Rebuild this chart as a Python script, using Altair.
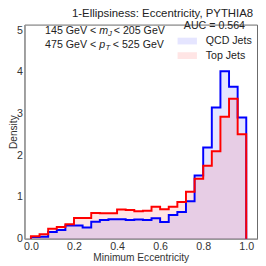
import altair as alt
import pandas as pd

bin_edges = [round(i * 0.04, 2) for i in range(26)]
qcd = [0.04, 0.05, 0.16, 0.21, 0.32, 0.32, 0.27, 0.41, 0.45, 0.47, 0.47, 0.45, 0.46,
       0.45, 0.49, 0.40, 0.57, 0.64, 0.90, 1.52, 2.19, 3.15, 4.02, 3.65, 2.91]
top = [0.06, 0.11, 0.24, 0.28, 0.35, 0.50, 0.50, 0.62, 0.61, 0.61, 0.70, 0.69, 0.66,
       0.67, 0.77, 0.71, 0.77, 0.88, 1.13, 1.44, 1.75, 2.10, 2.93, 3.36, 2.51]
series = ["QCD Jets", "Top Jets"]
colors = ["#0000ff", "#ff0000"]
x_ticks = [0.0, 0.2, 0.4, 0.6, 0.8, 1.0]
y_ticks = [0, 1, 2, 3, 4, 5]


def step_rows(name, vals):
    rows = [{"s": name, "x": bin_edges[0], "y": 0.0, "o": 0}]
    k = 1
    for i, v in enumerate(vals):
        rows.append({"s": name, "x": bin_edges[i], "y": v, "o": k}); k += 1
        rows.append({"s": name, "x": bin_edges[i + 1], "y": v, "o": k}); k += 1
    rows.append({"s": name, "x": bin_edges[-1], "y": 0.0, "o": k})
    return rows


def area_rows(name, vals):
    rows = [{"s": name, "x": bin_edges[i], "y": v} for i, v in enumerate(vals)]
    rows.append({"s": name, "x": bin_edges[-1], "y": vals[-1]})
    return rows


df = pd.DataFrame(step_rows(series[0], qcd) + step_rows(series[1], top))
dfa = pd.DataFrame(area_rows(series[0], qcd) + area_rows(series[1], top))

W, H = 240, 221
xs = alt.Scale(domain=[-0.03, 1.05], nice=False, zero=False)
ys = alt.Scale(domain=[0, 5.14], nice=False)
cs = alt.Scale(domain=series, range=colors)

X = alt.X("x:Q", scale=xs, title="Minimum Eccentricity",
          axis=alt.Axis(values=x_ticks, format=".1f"))
Y = alt.Y("y:Q", scale=ys, title="Density", stack=None,
          axis=alt.Axis(values=y_ticks, format="d", titleX=-16, titleY=H / 2,
                        titleBaseline="top"))

areas = alt.Chart(dfa).mark_area(opacity=0.1, interpolate="step-after").encode(
    x=X, y=Y,
    fill=alt.Fill("s:N", scale=cs, sort=series,
                  legend=alt.Legend(title="AUC = 0.564")),
    detail="s:N",
)

lines = []
for name, col in zip(series, colors):
    lines.append(
        alt.Chart(df).transform_filter(alt.datum.s == name)
        .mark_line(color=col, strokeWidth=2, interpolate="linear")
        .encode(x=X, y=Y, order="o:Q")
    )

ann_x = 0.317
l1y, l2y = 4.99, 4.65
ann = pd.DataFrame({"x": [ann_x], "y1": [l1y], "y2": [l2y]})
fs = 11


def txt(text, ycol, align="left", dx=0, dy=0, size=fs, style="normal"):
    return alt.Chart(ann).mark_text(
        text=text, align=align, baseline="middle", dx=dx, dy=dy,
        fontSize=size, fontStyle=style, font="Liberation Sans", color="#222"
    ).encode(x=alt.X("x:Q", scale=xs), y=alt.Y(f"{ycol}:Q", scale=ys))


texts = [
    txt("145 GeV <", "y1", align="right", dx=-3),
    txt("m", "y1", style="italic"),
    txt("J", "y1", dx=9, dy=3, size=8, style="italic"),
    txt("< 205 GeV", "y1", dx=15),
    txt("475 GeV <", "y2", align="right", dx=-3),
    txt("p", "y2", style="italic"),
    txt("T", "y2", dx=6.5, dy=3, size=8, style="italic"),
    txt("< 525 GeV", "y2", dx=14),
]

chart = alt.layer(areas, *lines, *texts).properties(
    width=W, height=H,
    autosize=alt.AutoSizeParams(type="none"),
    padding={"left": 17, "top": 13, "right": 1, "bottom": 24},
    title=alt.TitleParams("1-Ellipsiness: Eccentricity, PYTHIA8", anchor="end",
                          fontSize=11.75, fontWeight="normal", font="Liberation Sans",
                          color="#222", offset=1, dx=-4),
).configure_view(
    stroke="#666", strokeWidth=1
).configure_axis(
    labelFont="Liberation Sans", titleFont="Liberation Sans",
    labelFontSize=11, titleFontSize=10.5, labelColor="#333", titleColor="#333",
    titleFontWeight="normal", grid=False, ticks=False,
    domainColor="#999", domainWidth=1.5, labelPadding=2,
).configure_axisX(
    titlePadding=1
).configure_legend(
    orient="none", legendX=158, legendY=-4,
    titleFont="Liberation Sans", labelFont="Liberation Sans",
    titleFontSize=11, labelFontSize=11, titleFontWeight="normal",
    titleColor="#222", labelColor="#222", titleAnchor="middle",
    symbolType="M-1,-0.35L1,-0.35L1,0.35L-1,0.35Z", symbolSize=400,
    symbolOpacity=0.1, symbolStrokeWidth=0, labelOffset=9, rowPadding=0,
    titlePadding=0,
)

chart.save("out.html", embed_options={"renderer": "svg", "actions": False})
